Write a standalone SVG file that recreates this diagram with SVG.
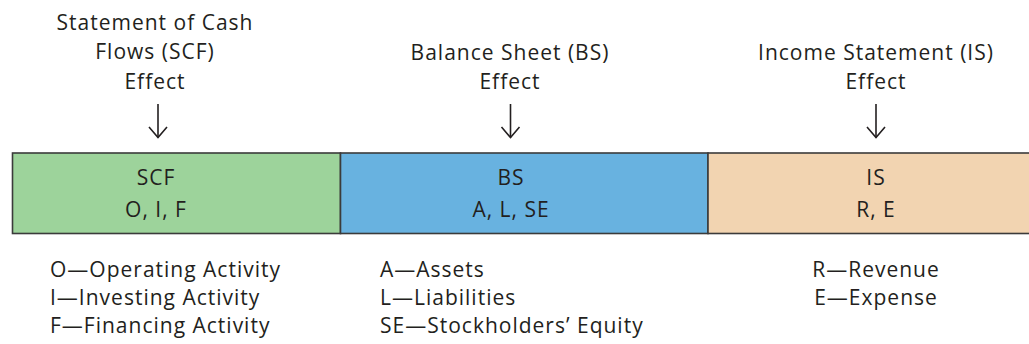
<svg xmlns="http://www.w3.org/2000/svg" width="1029" height="344" viewBox="0 0 1029 344">
<style>
text{font-family:"Open Sans","Noto Sans","Liberation Sans",sans-serif;font-size:21px;fill:#231f20;letter-spacing:1px}
.c{text-anchor:middle}
.box{stroke:#3b3b3b;stroke-width:1.6}
.arr{stroke:#231f20;stroke-width:1.6;fill:none}
</style>
<rect width="1029" height="344" fill="#fff"/>
<g id="scf-header">
<text class="c" x="155" y="29.5">Statement of Cash</text>
<text class="c" x="155" y="59">Flows (SCF)</text>
<text class="c" x="155" y="88.5">Effect</text>
</g>
<g id="bs-header">
<text class="c" x="510" y="60">Balance Sheet (BS)</text>
<text class="c" x="510" y="89">Effect</text>
</g>
<g id="is-header">
<text class="c" x="876" y="60">Income Statement (IS)</text>
<text class="c" x="876" y="89">Effect</text>
</g>
<g id="connectors">
<line class="arr" x1="158" y1="104" x2="158" y2="137.5"/>
<polyline class="arr" points="149,127 158,137.5 167,127"/>
<line class="arr" x1="510.5" y1="104" x2="510.5" y2="137.5"/>
<polyline class="arr" points="501.5,127 510.5,137.5 519.5,127"/>
<line class="arr" x1="876" y1="104" x2="876" y2="137.5"/>
<polyline class="arr" points="867,127 876,137.5 885,127"/>
</g>
<g id="scf-box">
<rect class="box" x="12.5" y="153" width="328" height="80.5" fill="#9dd39b"/>
<text class="c" x="156" y="185">SCF</text>
<text class="c" x="156" y="216.5">O, I, F</text>
</g>
<g id="bs-box">
<rect class="box" x="340.5" y="153" width="367.5" height="80.5" fill="#68b2e0"/>
<text class="c" x="511" y="185">BS</text>
<text class="c" x="511" y="216.5">A, L, SE</text>
</g>
<g id="is-box">
<rect class="box" x="708" y="153" width="330" height="80.5" fill="#f2d4b1"/>
<text class="c" x="876" y="185">IS</text>
<text class="c" x="876" y="216.5">R, E</text>
</g>
<g id="scf-legend">
<text x="50" y="277">O—Operating Activity</text>
<text x="50" y="305">I—Investing Activity</text>
<text x="50" y="332.5">F—Financing Activity</text>
</g>
<g id="bs-legend">
<text x="380" y="277">A—Assets</text>
<text x="380" y="305">L—Liabilities</text>
<text x="380" y="332.5">SE—Stockholders’ Equity</text>
</g>
<g id="is-legend">
<text class="c" x="876" y="277">R—Revenue</text>
<text class="c" x="876" y="305">E—Expense</text>
</g>
</svg>
